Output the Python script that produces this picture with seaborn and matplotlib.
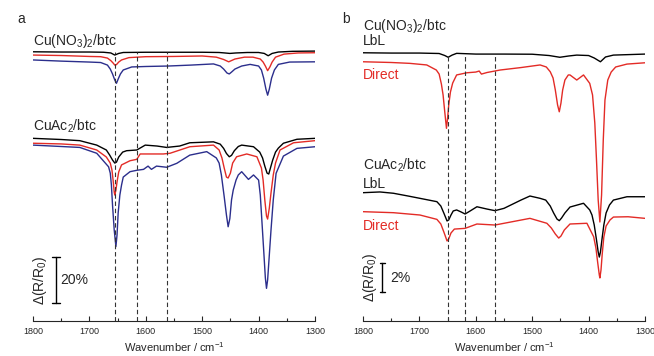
import numpy as np
import pandas as pd
import matplotlib
matplotlib.use('Agg')
import matplotlib.pyplot as plt
import seaborn as sns
from matplotlib.ticker import MultipleLocator

# ---- data: panel a (values in % dR/R, stacked with offsets) ----
a_top_black_wn = [1800, 1750, 1700, 1675, 1662, 1655, 1648, 1640, 1600, 1550, 1500, 1470, 1460, 1451,
                  1440, 1420, 1400, 1390, 1383, 1376, 1365, 1340, 1300]
a_top_black = [115.4, 115.3, 115.3, 115.2, 114.9, 114.0, 114.7, 115.1, 115.2, 115.2, 115.2, 115.1, 114.9,
               114.7, 114.9, 115.1, 115.1, 114.7, 113.7, 114.7, 115.3, 115.6, 115.7]

a_top_red_wn = [1800, 1750, 1700, 1680, 1668, 1662, 1658, 1655, 1652, 1648, 1643, 1630, 1600, 1550, 1500,
                1475, 1462, 1453, 1442, 1425, 1410, 1397, 1392, 1388, 1384, 1380, 1376, 1370, 1355, 1330, 1300]
a_top_red = [114.0, 113.8, 113.4, 113.3, 112.7, 111.6, 110.6, 109.7, 109.9, 111.0, 111.9, 112.9, 113.3,
             113.4, 113.6, 113.1, 112.1, 111.1, 112.3, 113.1, 113.1, 112.3, 111.0, 109.3, 107.3, 108.9,
             111.0, 113.1, 114.4, 114.9, 115.0]

a_top_blue_wn = [1800, 1750, 1700, 1680, 1668, 1663, 1659, 1655, 1652, 1649, 1645, 1640, 1625, 1600, 1560,
                 1520, 1480, 1468, 1462, 1456, 1452, 1448, 1442, 1430, 1415, 1400, 1395, 1391, 1387, 1384,
                 1381, 1377, 1372, 1365, 1345, 1300]
a_top_blue = [111.9, 111.4, 111.0, 110.8, 109.7, 108.0, 105.9, 103.3, 101.9, 103.7, 105.9, 107.6, 108.9,
              109.1, 109.3, 109.7, 110.2, 109.3, 108.0, 106.3, 105.9, 106.7, 108.0, 109.3, 110.0, 109.3,
              107.6, 104.1, 99.4, 96.8, 99.4, 104.1, 107.6, 110.0, 111.0, 111.1]

a_bot_black_wn = [1800, 1750, 1717, 1687, 1670, 1664, 1659, 1655, 1652, 1648, 1641, 1634, 1616, 1601, 1580,
                  1563, 1540, 1522, 1480, 1468, 1462, 1457, 1452, 1448, 1443, 1436, 1430, 1409, 1398, 1393,
                  1389, 1385, 1382, 1379, 1375, 1370, 1365, 1356, 1332, 1300]
a_bot_black = [78.3, 77.8, 77.3, 75.4, 73.3, 71.1, 69.0, 67.7, 68.1, 70.3, 72.4, 73.0, 73.3, 75.4, 75.0,
               74.4, 75.0, 76.4, 76.8, 75.8, 74.0, 71.8, 70.4, 71.0, 73.0, 74.8, 75.4, 74.7, 72.4, 69.9,
               66.4, 63.4, 63.0, 65.6, 69.0, 72.4, 74.1, 76.2, 77.9, 78.3]

a_bot_red_wn = [1800, 1750, 1717, 1687, 1670, 1663, 1660, 1658, 1656, 1655, 1653, 1651, 1648, 1643, 1628,
                1616, 1610, 1569, 1557, 1522, 1480, 1470, 1465, 1461, 1457, 1454, 1450, 1446, 1439, 1421,
                1403, 1395, 1392, 1389, 1386, 1384, 1381, 1378, 1374, 1370, 1362, 1338, 1300]
a_bot_red = [76.2, 75.9, 75.4, 73.3, 70.3, 67.7, 64.7, 60.4, 55.3, 54.0, 56.1, 59.6, 63.9, 66.9, 68.7,
             69.3, 71.6, 71.6, 71.9, 74.7, 75.4, 73.3, 69.9, 65.6, 61.7, 61.3, 63.4, 67.7, 70.4, 71.6,
             70.4, 65.6, 60.4, 51.9, 45.0, 43.7, 48.4, 54.9, 62.6, 67.7, 73.3, 76.4, 77.3]

a_bot_blue_wn = [1800, 1750, 1717, 1687, 1666, 1663, 1661, 1659, 1656, 1653, 1651, 1649, 1646, 1643, 1640,
                 1628, 1616, 1604, 1596, 1590, 1581, 1563, 1545, 1522, 1492, 1475, 1470, 1466, 1461, 1457,
                 1454, 1451, 1448, 1445, 1440, 1436, 1430, 1418, 1409, 1400, 1397, 1395, 1391, 1388, 1386,
                 1384, 1381, 1378, 1374, 1369, 1356, 1332, 1300]
a_bot_blue = [75.4, 74.8, 74.4, 71.9, 66.1, 63.4, 58.3, 49.7, 39.0, 31.9, 36.9, 46.3, 54.0, 58.3, 61.7,
              64.0, 64.6, 65.0, 66.4, 65.0, 66.4, 65.9, 67.6, 71.1, 72.6, 69.9, 67.7, 62.6, 53.3, 45.4,
              40.4, 43.9, 51.9, 56.1, 60.4, 62.6, 64.0, 60.7, 62.6, 60.4, 54.0, 46.2, 30.4, 18.4, 14.0,
              17.6, 28.3, 39.0, 51.9, 63.3, 70.7, 74.0, 74.7]

# ---- data: panel b ----
b_top_lbl_wn = [1800, 1750, 1700, 1665, 1655, 1649, 1642, 1634, 1600, 1550, 1500, 1470, 1451, 1435, 1421,
                1400, 1390, 1379, 1370, 1356, 1300]
b_top_lbl = [18.50, 18.48, 18.48, 18.45, 18.31, 18.19, 18.34, 18.46, 18.41, 18.41, 18.40, 18.31, 18.19,
             18.28, 18.34, 18.31, 18.14, 17.88, 18.21, 18.34, 18.41]

b_top_dir_wn = [1800, 1750, 1717, 1687, 1670, 1665, 1661, 1658, 1655, 1652, 1650, 1648, 1645, 1641, 1634,
                1616, 1600, 1594, 1590, 1580, 1557, 1520, 1486, 1475, 1468, 1463, 1459, 1455, 1452, 1449,
                1446, 1442, 1436, 1433, 1421, 1409, 1398, 1393, 1389, 1386, 1383, 1380, 1377, 1374, 1371,
                1366, 1360, 1352, 1332, 1300]
b_top_dir = [17.88, 17.83, 17.77, 17.66, 17.31, 17.03, 16.34, 15.59, 14.41, 13.29, 14.0, 14.90, 15.79,
             16.41, 16.97, 17.12, 17.17, 17.24, 17.03, 17.14, 17.31, 17.48, 17.66, 17.52, 17.19, 16.76,
             15.93, 14.90, 14.43, 15.03, 15.93, 16.62, 16.97, 16.97, 16.62, 16.97, 16.39, 15.59, 13.66,
             11.10, 8.34, 6.83, 8.69, 12.48, 15.24, 16.62, 17.17, 17.52, 17.72, 17.81]

b_bot_lbl_wn = [1800, 1770, 1746, 1720, 1699, 1669, 1662, 1656, 1651, 1648, 1644, 1640, 1634, 1626, 1619,
                1610, 1598, 1580, 1566, 1550, 1520, 1504, 1486, 1476, 1468, 1462, 1456, 1452, 1448, 1442,
                1433, 1409, 1398, 1394, 1390, 1386, 1383, 1381, 1379, 1376, 1373, 1369, 1363, 1356, 1332,
                1300]
b_bot_lbl = [8.85, 8.90, 8.81, 8.62, 8.46, 8.23, 7.93, 7.38, 6.90, 6.97, 7.31, 7.59, 7.66, 7.52, 7.38,
             7.59, 7.88, 7.72, 7.61, 7.77, 8.34, 8.62, 8.46, 8.34, 7.93, 7.45, 7.03, 6.92, 7.10, 7.45,
             7.86, 8.12, 7.66, 7.31, 6.62, 5.59, 4.76, 4.41, 4.76, 5.72, 6.62, 7.45, 8.0, 8.34, 8.57, 8.57]

b_bot_dir_wn = [1800, 1746, 1699, 1669, 1662, 1656, 1651, 1648, 1644, 1638, 1619, 1598, 1566, 1504, 1474,
                1466, 1459, 1453, 1449, 1443, 1433, 1403, 1391, 1387, 1384, 1381, 1380, 1378, 1376, 1373,
                1369, 1362, 1356, 1330, 1300]
b_bot_dir = [7.54, 7.47, 7.31, 7.01, 6.69, 6.07, 5.52, 5.66, 6.07, 6.34, 6.39, 6.69, 6.62, 7.08, 6.74,
             6.41, 6.0, 5.72, 5.86, 6.28, 6.69, 6.74, 5.81, 5.03, 4.07, 3.17, 2.97, 3.52, 4.55, 5.79,
             6.55, 6.97, 7.17, 7.19, 7.08]

a_marks = [1655, 1616, 1562]
b_marks = [1649, 1619, 1566]

BLACK = '#000000'
RED = '#e32b26'
BLUE = '#2b2e8c'

sns.set_style('ticks')
plt.rcParams['font.family'] = ['Liberation Sans', 'DejaVu Sans']
plt.rcParams['mathtext.default'] = 'regular'

fig = plt.figure(figsize=(6.54, 3.56), dpi=100)
ax_a = fig.add_axes([33 / 654, 35 / 356, 282 / 654, 321 / 356])
ax_b = fig.add_axes([363 / 654, 35 / 356, 282 / 654, 321 / 356])


def trace(ax, wn, vals, color):
    df = pd.DataFrame({'wn': wn, 'v': vals})
    sns.lineplot(data=df, x='wn', y='v', ax=ax, color=color, lw=1.0,
                 estimator=None, sort=False)


for wn, v, c in [(a_top_black_wn, a_top_black, BLACK), (a_top_red_wn, a_top_red, RED),
                 (a_top_blue_wn, a_top_blue, BLUE), (a_bot_black_wn, a_bot_black, BLACK),
                 (a_bot_red_wn, a_bot_red, RED), (a_bot_blue_wn, a_bot_blue, BLUE)]:
    trace(ax_a, wn, v, c)

for wn, v, c in [(b_top_lbl_wn, b_top_lbl, BLACK), (b_top_dir_wn, b_top_dir, RED),
                 (b_bot_lbl_wn, b_bot_lbl, BLACK), (b_bot_dir_wn, b_bot_dir, RED)]:
    trace(ax_b, wn, v, c)

ax_a.vlines(a_marks, 0, 115.5, colors='#333333', linestyles=(0, (4, 2.5)), lw=0.8)
ax_b.vlines(b_marks, 0, 18.45, colors='#333333', linestyles=(0, (4, 2.5)), lw=0.8)

ax_a.set_ylim(0, 137.6)
ax_b.set_ylim(0, 22.14)

for ax in (ax_a, ax_b):
    ax.set_xlim(1800, 1300)
    ax.xaxis.set_major_locator(MultipleLocator(100))
    ax.xaxis.set_minor_locator(MultipleLocator(50))
    ax.tick_params(axis='x', which='major', direction='in', length=3.5, width=0.8,
                   labelsize=6.5, pad=4)
    ax.tick_params(axis='x', which='minor', direction='in', length=2, width=0.8)
    ax.set_yticks([])
    ax.set_ylabel('')
    for s in ('top', 'right', 'left'):
        ax.spines[s].set_visible(False)
    ax.spines['bottom'].set_linewidth(0.8)
    ax.set_xlabel('Wavenumber / cm$^{-1}$', fontsize=8, labelpad=3)
    ax.patch.set_alpha(0)

# panel a labels
ax_a.text(1800, 118.3, 'Cu(NO$_3$)$_2$/btc', fontsize=10, va='baseline', ha='left')
ax_a.text(1800, 81.6, 'CuAc$_2$/btc', fontsize=10, va='baseline', ha='left')
ax_a.plot([1759, 1759], [7.6, 27.6], color='k', lw=1)
ax_a.plot([1766, 1752], [7.6, 7.6], color='k', lw=1)
ax_a.plot([1766, 1752], [27.6, 27.6], color='k', lw=1)
ax_a.text(1752, 17.6, '20%', fontsize=10, va='center', ha='left')
ax_a.text(1788, 17.6, 'Δ(R/R$_0$)', fontsize=10, va='center', ha='center', rotation=90)

# panel b labels
ax_b.text(1800, 20.07, 'Cu(NO$_3$)$_2$/btc', fontsize=10, va='baseline', ha='left')
ax_b.text(1800, 19.03, 'LbL', fontsize=10, va='baseline', ha='left')
ax_b.text(1800, 16.69, 'Direct', fontsize=10, va='baseline', ha='left', color=RED)
ax_b.text(1800, 10.41, 'CuAc$_2$/btc', fontsize=10, va='baseline', ha='left')
ax_b.text(1800, 9.15, 'LbL', fontsize=10, va='baseline', ha='left')
ax_b.text(1800, 6.28, 'Direct', fontsize=10, va='baseline', ha='left', color=RED)
ax_b.plot([1766, 1766], [2.0, 4.0], color='k', lw=1)
ax_b.plot([1770, 1761], [2.0, 2.0], color='k', lw=1)
ax_b.plot([1770, 1761], [4.0, 4.0], color='k', lw=1)
ax_b.text(1751, 3.0, '2%', fontsize=10, va='center', ha='left')
ax_b.text(1788, 3.0, 'Δ(R/R$_0$)', fontsize=10, va='center', ha='center', rotation=90)

fig.text(17 / 654, 1 - 23 / 356, 'a', fontsize=10)
fig.text(342 / 654, 1 - 23 / 356, 'b', fontsize=10)

fig.savefig('out.png', dpi=100)
